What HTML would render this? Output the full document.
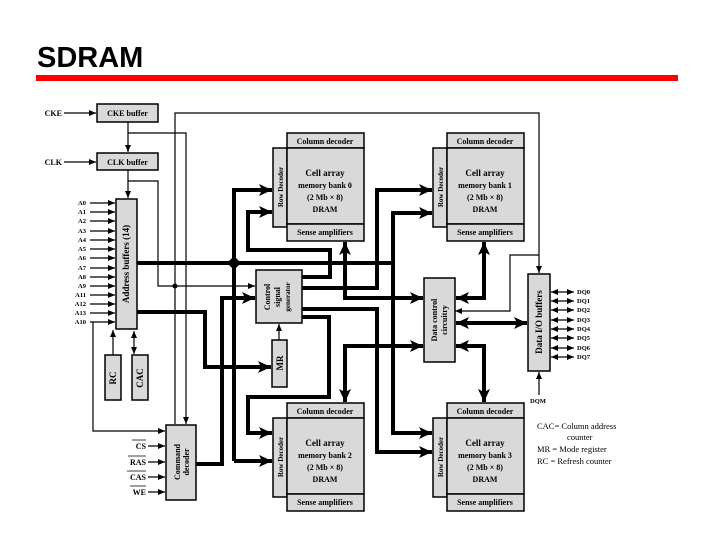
<!DOCTYPE html>
<html><head><meta charset="utf-8"><style>
html,body{margin:0;padding:0;background:#fff;}
svg{display:block;}
text{font-family:"Liberation Serif",serif;}
.b{fill:#d9d9d9;stroke:#000;stroke-width:1.5;}
.t{font-size:8px;font-weight:bold;}
.s{font-size:6.5px;font-weight:bold;}
.th{stroke:#000;stroke-width:4;fill:none;}
.tn{stroke:#000;stroke-width:1.2;fill:none;}
</style></head><body>
<svg width="720" height="540" viewBox="0 0 720 540" xmlns="http://www.w3.org/2000/svg">
<defs>
<marker id="B" markerUnits="userSpaceOnUse" markerWidth="14" markerHeight="14" refX="13" refY="7" orient="auto-start-reverse"><path d="M0,1 L13,7 L0,13 L3,7 z" fill="#000"/></marker>
<marker id="S" markerUnits="userSpaceOnUse" markerWidth="8" markerHeight="8" refX="7" refY="4" orient="auto-start-reverse"><path d="M0,1 L7,4 L0,7 z" fill="#000"/></marker>
</defs>
<text x="37" y="67" style="font-family:'Liberation Sans',sans-serif;font-size:29px;font-weight:bold;">SDRAM</text>
<rect x="36" y="75" width="642" height="6" fill="#ff0000"/>

<!-- thin lines -->
<g class="tn">
<path d="M64,113 H96" marker-end="url(#S)"/>
<path d="M64,162 H96" marker-end="url(#S)"/>
<path d="M128,122 V152" marker-end="url(#S)"/>
<path d="M128,170 V198" marker-end="url(#S)"/>
<path d="M128,133 H186 V424" marker-end="url(#S)"/>
<path d="M128,181 H158 V286 H255" marker-end="url(#S)"/>
<path d="M175,424 V113 H539 V273" marker-end="url(#S)"/>
<path d="M455,311 H510 V255 H539" marker-start="url(#S)"/>
<path d="M93,322 V431 H165" marker-end="url(#S)"/>
<path d="M113,355 V330" marker-end="url(#S)"/>
<path d="M134,331 V354" marker-start="url(#S)" marker-end="url(#S)"/>
<path d="M279,340 V324" marker-end="url(#S)"/>
<path d="M539,395 V372" marker-end="url(#S)"/>
<path d="M148,446 H165" marker-end="url(#S)"/>
<path d="M148,462 H165" marker-end="url(#S)"/>
<path d="M148,477 H165" marker-end="url(#S)"/>
<path d="M148,492 H165" marker-end="url(#S)"/>
</g>
<circle cx="175" cy="286" r="2.5"/>
<g class="tn">
<path d="M90,203 H115" marker-end="url(#S)"/><path d="M90,212 H115" marker-end="url(#S)"/>
<path d="M90,221 H115" marker-end="url(#S)"/><path d="M90,231 H115" marker-end="url(#S)"/>
<path d="M90,240 H115" marker-end="url(#S)"/><path d="M90,249 H115" marker-end="url(#S)"/>
<path d="M90,258 H115" marker-end="url(#S)"/><path d="M90,268 H115" marker-end="url(#S)"/>
<path d="M90,277 H115" marker-end="url(#S)"/><path d="M90,286 H115" marker-end="url(#S)"/>
<path d="M90,295 H115" marker-end="url(#S)"/><path d="M90,304 H115" marker-end="url(#S)"/>
<path d="M90,313 H115" marker-end="url(#S)"/><path d="M90,322 H115" marker-end="url(#S)"/>
</g>
<g class="tn">
<path d="M551,292 H574" marker-start="url(#S)" marker-end="url(#S)"/>
<path d="M551,301 H574" marker-start="url(#S)" marker-end="url(#S)"/>
<path d="M551,310 H574" marker-start="url(#S)" marker-end="url(#S)"/>
<path d="M551,320 H574" marker-start="url(#S)" marker-end="url(#S)"/>
<path d="M551,329 H574" marker-start="url(#S)" marker-end="url(#S)"/>
<path d="M551,338 H574" marker-start="url(#S)" marker-end="url(#S)"/>
<path d="M551,348 H574" marker-start="url(#S)" marker-end="url(#S)"/>
<path d="M551,357 H574" marker-start="url(#S)" marker-end="url(#S)"/>
</g>

<!-- thick lines -->
<g class="th">
<path d="M137,263 H393"/>
<path d="M234,461 V190 H272" marker-end="url(#B)"/>
<path d="M234,461 H272" marker-end="url(#B)"/>
<path d="M302,277 H330 V250 H248 V212 H272" marker-end="url(#B)"/>
<path d="M302,288 H377 V190 H432" marker-end="url(#B)"/>
<path d="M393,263 V213 H432" marker-end="url(#B)"/>
<path d="M393,263 V433 H432" marker-end="url(#B)"/>
<path d="M302,309 H377 V452 H432" marker-end="url(#B)"/>
<path d="M302,317 H329 V397 H248 V433 H272" marker-end="url(#B)"/>
<path d="M137,312 H205 V367 H271" marker-end="url(#B)"/>
<path d="M196,464 H222 V298 H255" marker-end="url(#B)"/>
<path d="M345,242 V298 H423" marker-start="url(#B)" marker-end="url(#B)"/>
<path d="M484,242 V298 H456" marker-start="url(#B)" marker-end="url(#B)"/>
<path d="M423,346 H345 V402" marker-start="url(#B)" marker-end="url(#B)"/>
<path d="M456,346 H484 V402" marker-start="url(#B)" marker-end="url(#B)"/>
<path d="M456,323 H527" marker-start="url(#B)" marker-end="url(#B)"/>
</g>
<path d="M234,256 L241,263 L234,270 L227,263 z" fill="#000"/>

<!-- boxes -->
<rect class="b" x="97" y="104" width="61" height="18"/>
<text class="t" x="127.5" y="116" text-anchor="middle">CKE buffer</text>
<rect class="b" x="97" y="153" width="61" height="17"/>
<text class="t" x="127.5" y="165" text-anchor="middle">CLK buffer</text>
<text class="t" x="62" y="116" text-anchor="end">CKE</text>
<text class="t" x="62" y="165" text-anchor="end">CLK</text>
<g class="s" text-anchor="end">
<text x="86" y="205">A0</text><text x="86" y="214">A1</text><text x="86" y="223">A2</text><text x="86" y="233">A3</text>
<text x="86" y="242">A4</text><text x="86" y="251">A5</text><text x="86" y="260">A6</text><text x="86" y="270">A7</text>
<text x="86" y="279">A8</text><text x="86" y="288">A9</text><text x="86" y="297">A11</text><text x="86" y="306">A12</text>
<text x="86" y="315">A13</text><text x="86" y="324">A10</text>
</g>
<rect class="b" x="116" y="199" width="21" height="130"/>
<text class="t" transform="translate(129,264) rotate(-90)" text-anchor="middle" style="font-size:9px">Address buffers (14)</text>
<rect class="b" x="105" y="355" width="16" height="45"/>
<text class="t" transform="translate(116,378) rotate(-90)" text-anchor="middle" style="font-size:9px">RC</text>
<rect class="b" x="132" y="355" width="16" height="45"/>
<text class="t" transform="translate(143,378) rotate(-90)" text-anchor="middle" style="font-size:9px">CAC</text>
<rect class="b" x="166" y="425" width="30" height="75"/>
<text class="t" transform="translate(180,462) rotate(-90)" text-anchor="middle">Command</text>
<text class="t" transform="translate(189,462) rotate(-90)" text-anchor="middle">decoder</text>
<g class="t" text-anchor="end">
<text x="146" y="449">CS</text><text x="146" y="465">RAS</text><text x="146" y="480">CAS</text><text x="146" y="495">WE</text>
</g>
<path d="M132,440 H146 M128,456 H146 M127,471 H146 M130,486 H146" stroke="#000" stroke-width="0.8"/>

<rect class="b" x="256" y="270" width="46" height="53"/>
<text class="t" transform="translate(270,297) rotate(-90)" text-anchor="middle">Control</text>
<text class="t" transform="translate(280,297) rotate(-90)" text-anchor="middle">signal</text>
<text class="t" transform="translate(290,297) rotate(-90)" text-anchor="middle" style="font-size:7px">generator</text>
<rect class="b" x="272" y="340" width="15" height="47"/>
<text class="t" transform="translate(283,363) rotate(-90)" text-anchor="middle" style="font-size:9px">MR</text>

<rect class="b" x="424" y="278" width="31" height="84"/>
<text class="t" transform="translate(437,320) rotate(-90)" text-anchor="middle">Data control</text>
<text class="t" transform="translate(447,320) rotate(-90)" text-anchor="middle">circuitry</text>
<rect class="b" x="528" y="274" width="22" height="97"/>
<text class="t" transform="translate(542,322) rotate(-90)" text-anchor="middle" style="font-size:9px">Data I/O buffers</text>
<g class="s">
<text x="577" y="294">DQ0</text><text x="577" y="303">DQ1</text><text x="577" y="312">DQ2</text><text x="577" y="322">DQ3</text>
<text x="577" y="331">DQ4</text><text x="577" y="340">DQ5</text><text x="577" y="350">DQ6</text><text x="577" y="359">DQ7</text>
<text x="530" y="403">DQM</text>
</g>

<!-- banks -->
<g id="bank0">
<rect class="b" x="273" y="148" width="14" height="79"/>
<text class="s" transform="translate(283,187) rotate(-90)" text-anchor="middle" style="font-size:7px">Row Decoder</text>
<rect class="b" x="287" y="133" width="77" height="15"/>
<text class="t" x="325" y="144" text-anchor="middle">Column decoder</text>
<rect class="b" x="287" y="148" width="77" height="76"/>
<text class="t" x="325" y="176" text-anchor="middle" style="font-size:9px">Cell array</text>
<text class="t" x="325" y="188" text-anchor="middle">memory bank 0</text>
<text class="t" x="325" y="200" text-anchor="middle">(2 Mb × 8)</text>
<text class="t" x="325" y="212" text-anchor="middle">DRAM</text>
<rect class="b" x="287" y="224" width="77" height="17"/>
<text class="t" x="325" y="235" text-anchor="middle">Sense amplifiers</text>
</g>
<g transform="translate(160,0)">
<rect class="b" x="273" y="148" width="14" height="79"/>
<text class="s" transform="translate(283,187) rotate(-90)" text-anchor="middle" style="font-size:7px">Row Decoder</text>
<rect class="b" x="287" y="133" width="77" height="15"/>
<text class="t" x="325" y="144" text-anchor="middle">Column decoder</text>
<rect class="b" x="287" y="148" width="77" height="76"/>
<text class="t" x="325" y="176" text-anchor="middle" style="font-size:9px">Cell array</text>
<text class="t" x="325" y="188" text-anchor="middle">memory bank 1</text>
<text class="t" x="325" y="200" text-anchor="middle">(2 Mb × 8)</text>
<text class="t" x="325" y="212" text-anchor="middle">DRAM</text>
<rect class="b" x="287" y="224" width="77" height="17"/>
<text class="t" x="325" y="235" text-anchor="middle">Sense amplifiers</text>
</g>
<g transform="translate(0,270)">
<rect class="b" x="273" y="148" width="14" height="79"/>
<text class="s" transform="translate(283,187) rotate(-90)" text-anchor="middle" style="font-size:7px">Row Decoder</text>
<rect class="b" x="287" y="133" width="77" height="15"/>
<text class="t" x="325" y="144" text-anchor="middle">Column decoder</text>
<rect class="b" x="287" y="148" width="77" height="76"/>
<text class="t" x="325" y="176" text-anchor="middle" style="font-size:9px">Cell array</text>
<text class="t" x="325" y="188" text-anchor="middle">memory bank 2</text>
<text class="t" x="325" y="200" text-anchor="middle">(2 Mb × 8)</text>
<text class="t" x="325" y="212" text-anchor="middle">DRAM</text>
<rect class="b" x="287" y="224" width="77" height="17"/>
<text class="t" x="325" y="235" text-anchor="middle">Sense amplifiers</text>
</g>
<g transform="translate(160,270)">
<rect class="b" x="273" y="148" width="14" height="79"/>
<text class="s" transform="translate(283,187) rotate(-90)" text-anchor="middle" style="font-size:7px">Row Decoder</text>
<rect class="b" x="287" y="133" width="77" height="15"/>
<text class="t" x="325" y="144" text-anchor="middle">Column decoder</text>
<rect class="b" x="287" y="148" width="77" height="76"/>
<text class="t" x="325" y="176" text-anchor="middle" style="font-size:9px">Cell array</text>
<text class="t" x="325" y="188" text-anchor="middle">memory bank 3</text>
<text class="t" x="325" y="200" text-anchor="middle">(2 Mb × 8)</text>
<text class="t" x="325" y="212" text-anchor="middle">DRAM</text>
<rect class="b" x="287" y="224" width="77" height="17"/>
<text class="t" x="325" y="235" text-anchor="middle">Sense amplifiers</text>
</g>

<g style="font-size:8.5px">
<text x="537" y="429">CAC= Column address</text>
<text x="567" y="440">counter</text>
<text x="537" y="452">MR = Mode register</text>
<text x="537" y="464">RC = Refresh counter</text>
</g>
</svg>
</body></html>
